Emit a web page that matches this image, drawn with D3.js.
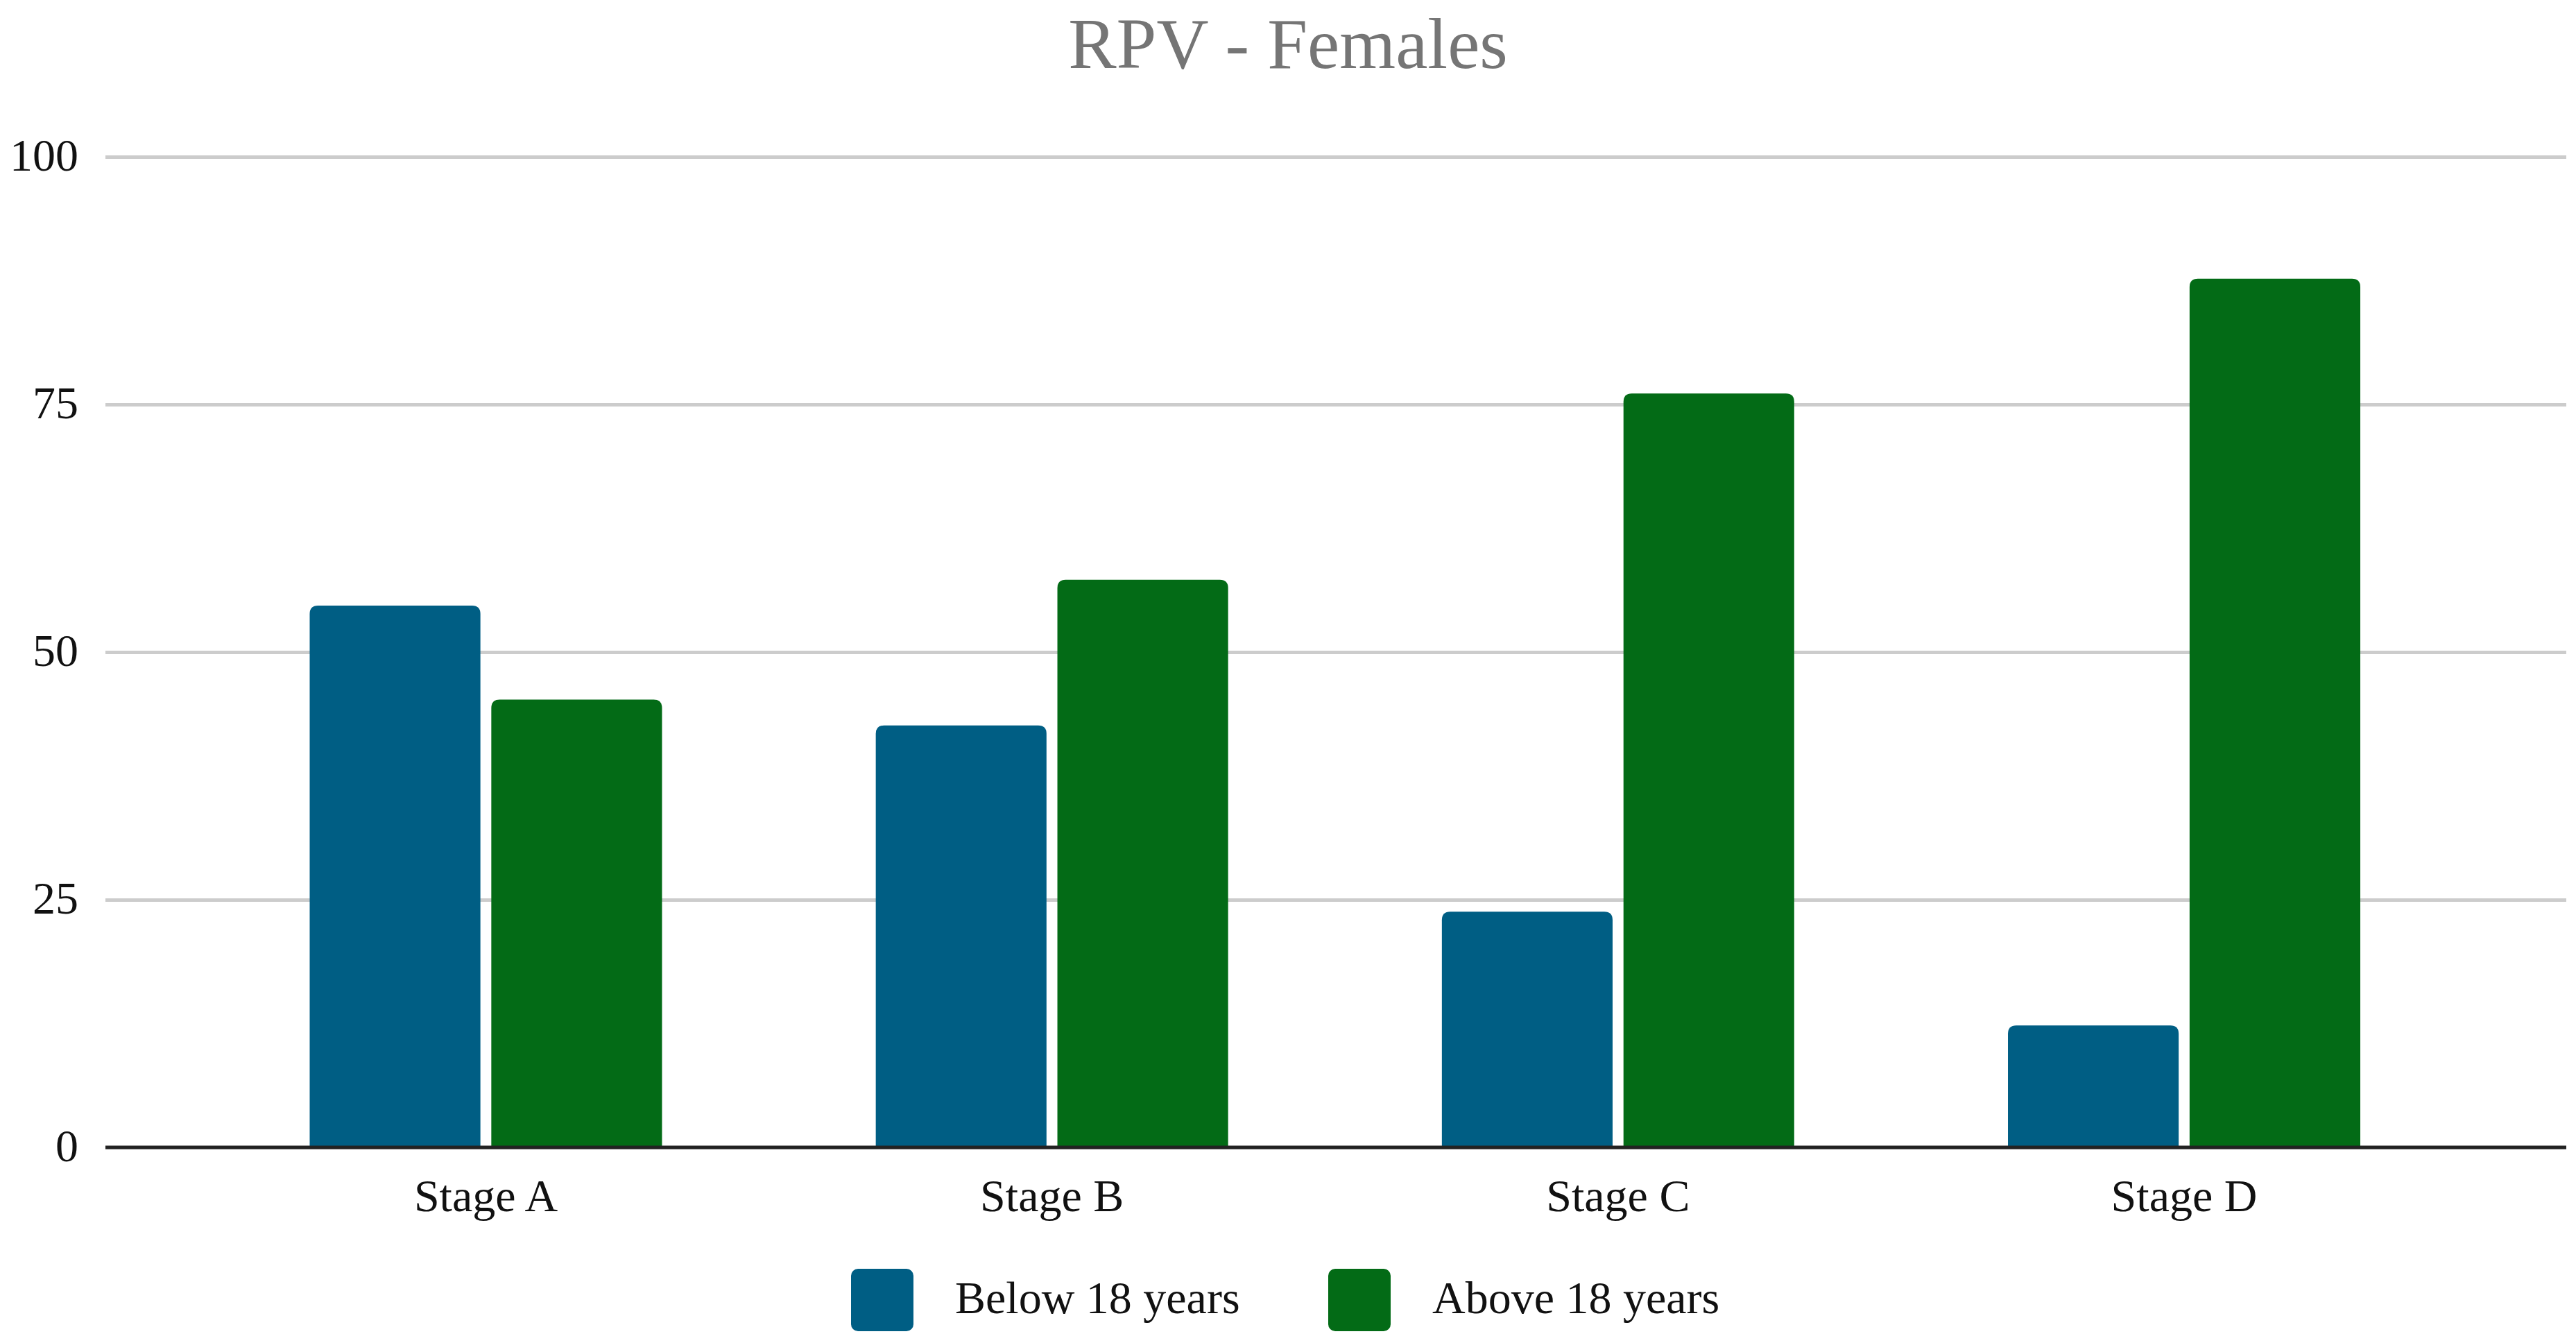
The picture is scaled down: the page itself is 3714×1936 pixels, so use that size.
<!DOCTYPE html>
<html>
<head>
<meta charset="utf-8">
<script src="https://cdn.jsdelivr.net/npm/d3@7/dist/d3.min.js"></script>
<style>
  html, body { margin: 0; padding: 0; background: #ffffff; }
  svg { display: block; }
</style>
</head>
<body>
<script>
// ---- Data ----
const categories = ["Stage A", "Stage B", "Stage C", "Stage D"];
const seriesNames = ["Below 18 years", "Above 18 years"];
const below18 = [54.7, 42.6, 23.8, 12.3];
const above18 = [45.2, 57.3, 76.1, 87.7];
const yTicks = [0, 25, 50, 75, 100];
const titleText = "RPV - Females";

const seriesValues = [below18, above18];
const colors = ["#005E84", "#036B16"];

const W = 3714, H = 1936;
const gridL = 152, gridR = 3700;
const plotTop = 226, plotBottom = 1654;
const fontFamily = "'Liberation Serif', 'Times New Roman', serif";

const svg = d3.select("body").append("svg")
  .attr("width", W).attr("height", H)
  .attr("viewBox", `0 0 ${W} ${H}`);

svg.append("rect").attr("width", W).attr("height", H).attr("fill", "#ffffff");

// Scales
const y = d3.scaleLinear().domain([0, 100]).range([plotBottom, plotTop]);
const x0 = d3.scaleBand().domain(categories)
  .range([292.4, 3557.1]).paddingInner(0.3776).paddingOuter(0.3776 / 2);
const x1 = d3.scaleBand().domain(seriesNames)
  .range([0, x0.bandwidth()]).paddingInner(0.06);

// Title
svg.append("text")
  .attr("x", W / 2).attr("y", 98)
  .attr("text-anchor", "middle")
  .attr("font-family", fontFamily)
  .attr("font-size", 104)
  .attr("fill", "#757575")
  .text(titleText);

// Y axis with gridlines
const yAxis = svg.append("g")
  .attr("transform", `translate(${gridL},0)`)
  .call(d3.axisLeft(y).tickValues(yTicks).tickSize(-(gridR - gridL)).tickPadding(39));
yAxis.select(".domain").remove();
yAxis.selectAll(".tick line").attr("stroke", "#cccccc").attr("stroke-width", 5);
yAxis.selectAll(".tick text")
  .attr("font-family", fontFamily).attr("font-size", 66).attr("fill", "#111111")
  .attr("dy", "0.29em");

// Bars
const rows = categories.map((c, i) => ({ cat: c, vals: seriesNames.map((s, j) => ({ s, j, v: seriesValues[j][i] })) }));
const r = 12;
function topRoundedPath(xl, yt, w, yb) {
  const rr = Math.min(r, w / 2, (yb - yt));
  return `M${xl},${yb} L${xl},${yt + rr} Q${xl},${yt} ${xl + rr},${yt} L${xl + w - rr},${yt} Q${xl + w},${yt} ${xl + w},${yt + rr} L${xl + w},${yb} Z`;
}
svg.append("g").selectAll("g").data(rows).join("g")
  .attr("transform", d => `translate(${x0(d.cat)},0)`)
  .selectAll("path").data(d => d.vals).join("path")
  .attr("d", d => topRoundedPath(x1(d.s), y(d.v), x1.bandwidth(), y(0)))
  .attr("fill", d => colors[d.j]);

// Baseline
svg.append("line")
  .attr("x1", gridL).attr("x2", gridR)
  .attr("y1", y(0)).attr("y2", y(0))
  .attr("stroke", "#222222").attr("stroke-width", 5);

// X axis labels
const xAxis = svg.append("g")
  .attr("transform", `translate(0,${plotBottom})`)
  .call(d3.axisBottom(x0).tickSize(0).tickPadding(45));
xAxis.select(".domain").remove();
xAxis.selectAll(".tick text")
  .attr("font-family", fontFamily).attr("font-size", 66).attr("fill", "#111111");

// Legend
const legendItems = [
  { name: seriesNames[0], color: colors[0], x: 1227, tx: 1377 },
  { name: seriesNames[1], color: colors[1], x: 1915, tx: 2065 }
];
const lg = svg.append("g");
lg.selectAll("rect").data(legendItems).join("rect")
  .attr("x", d => d.x).attr("y", 1829)
  .attr("width", 90).attr("height", 90)
  .attr("rx", 10).attr("ry", 10)
  .attr("fill", d => d.color);
lg.selectAll("text").data(legendItems).join("text")
  .attr("x", d => d.tx).attr("y", 1893)
  .attr("font-family", fontFamily).attr("font-size", 66).attr("fill", "#111111")
  .text(d => d.name);
</script>
</body>
</html>
